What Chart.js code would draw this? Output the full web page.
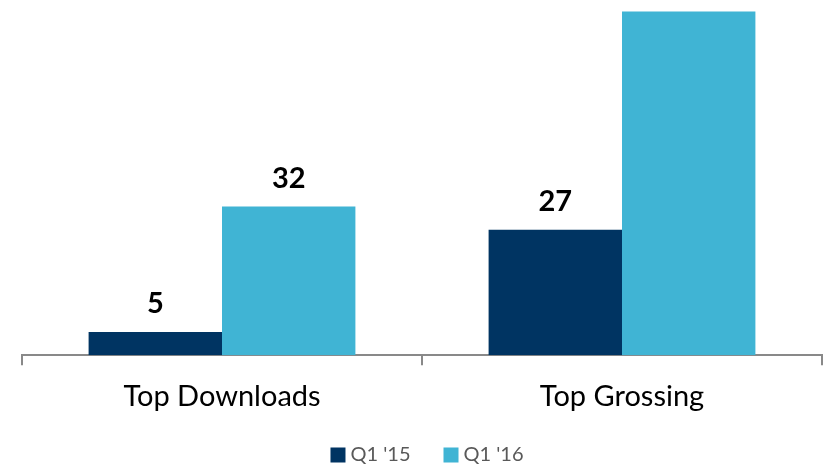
<!DOCTYPE html>
<html>
<head>
<meta charset="utf-8">
<script src="https://cdn.jsdelivr.net/npm/chart.js@4/dist/chart.umd.min.js"></script>
<style>
  html, body { margin: 0; padding: 0; background: #fff; }
  #wrap { width: 832px; height: 465px; }
</style>
</head>
<body>
<div id="wrap"><canvas id="rankChart"></canvas></div>
<script>
const categories = ['Top Downloads', 'Top Grossing'];
const seriesNames = ["Q1 '15", "Q1 '16"];
const q115Values = [5, 27];
const q116Values = [32, 74];
const seriesColors = ['#003462', '#40B4D4'];

// value labels drawn above each bar
const barValueLabels = {
  id: 'barValueLabels',
  afterDatasetsDraw(chart) {
    const ctx = chart.ctx;
    ctx.save();
    ctx.fillStyle = '#000';
    ctx.font = "bold 29px Lato, sans-serif";
    ctx.textAlign = 'center';
    ctx.textBaseline = 'alphabetic';
    chart.data.datasets.forEach((ds, i) => {
      chart.getDatasetMeta(i).data.forEach((bar, j) => {
        ctx.fillText(String(ds.data[j]), bar.x, bar.y - 19);
      });
    });
    ctx.restore();
  }
};

// legend row under the axis labels
const bottomLegend = {
  id: 'bottomLegend',
  afterDraw(chart) {
    const ctx = chart.ctx;
    const box = 15, gap = 5, spacing = 33, y = 455;
    ctx.save();
    ctx.font = "20px Lato, sans-serif";
    ctx.textBaseline = 'middle';
    const items = chart.data.datasets.map(ds => ({
      text: ds.label, color: ds.backgroundColor, w: ctx.measureText(ds.label).width
    }));
    const total = items.reduce((s, it) => s + box + gap + it.w, 0) + spacing * (items.length - 1);
    let x = (chart.chartArea.left + chart.chartArea.right) / 2 - total / 2 + 5;
    items.forEach(it => {
      ctx.fillStyle = it.color;
      ctx.fillRect(x, y - box / 2, box, box);
      ctx.fillStyle = '#595959';
      ctx.fillText(it.text, x + box + gap, y);
      x += box + gap + it.w + spacing;
    });
    ctx.restore();
  }
};

new Chart(document.getElementById('rankChart'), {
  type: 'bar',
  data: {
    labels: categories,
    datasets: [
      { label: seriesNames[0], data: q115Values, backgroundColor: seriesColors[0] },
      { label: seriesNames[1], data: q116Values, backgroundColor: seriesColors[1] }
    ]
  },
  options: {
    responsive: true,
    maintainAspectRatio: false,
    animation: false,
    layout: { padding: { left: 22, right: 10, top: 0, bottom: 37 } },
    datasets: { bar: { categoryPercentage: 0.667, barPercentage: 1 } },
    plugins: {
      legend: { display: false },
      tooltip: { enabled: false }
    },
    scales: {
      x: {
        offset: true,
        border: { color: '#898989', width: 2 },
        grid: { drawOnChartArea: false, color: '#898989', lineWidth: 2, tickLength: 10, offset: true },
        ticks: { color: '#000', font: { family: "Lato, sans-serif", size: 29 }, padding: 14 }
      },
      y: {
        display: false,
        min: 0,
        max: 76.5
      }
    }
  },
  plugins: [barValueLabels, bottomLegend]
});
</script>
</body>
</html>
